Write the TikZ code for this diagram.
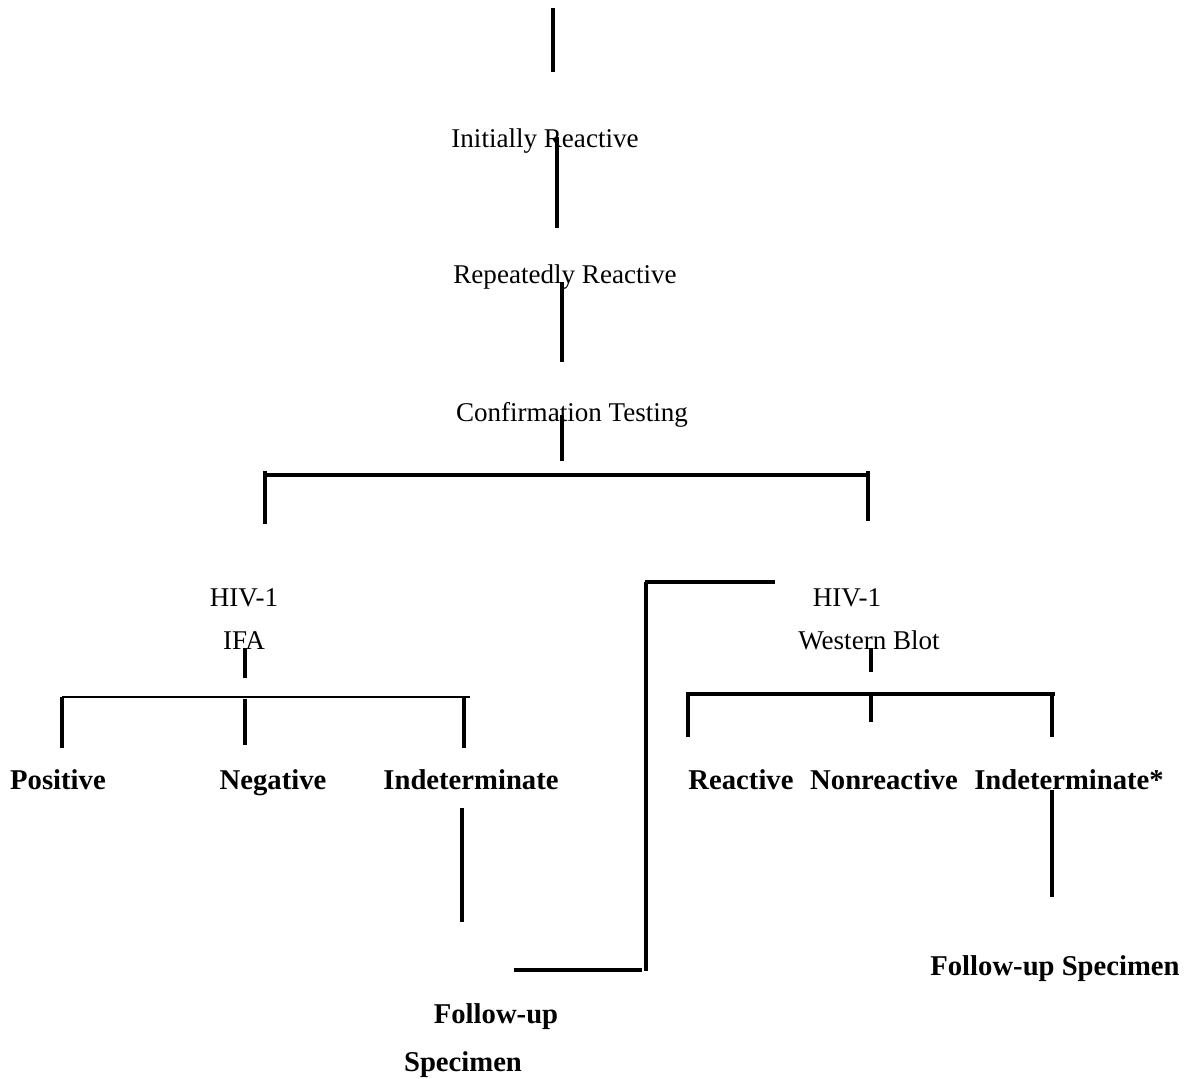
\documentclass[tikz,border=0pt]{standalone}
\usepackage{fontspec}
\setmainfont{Liberation Serif}
\begin{document}
\begin{tikzpicture}[x=0.75pt,y=-0.75pt,
  lbl/.style={inner sep=0pt,anchor=base,font=\fontsize{20.3}{24}\selectfont},
  blbl/.style={inner sep=0pt,anchor=base,font=\fontsize{21.5}{26}\selectfont\bfseries},
  thick line/.style={line width=3.3pt},
  mid line/.style={line width=2.8pt},
  thin line/.style={line width=2.2pt}]
\useasboundingbox (0,0) rectangle (1195,1078);
% text nodes
\node[lbl] (ir) at (545,147) {Initially Reactive};
\node[lbl] (rr) at (565,283) {Repeatedly Reactive};
\node[lbl] (ct) at (572,421) {Confirmation Testing};
\node[lbl] (hiv1) at (244,606) {HIV-1};
\node[lbl] (ifa) at (244,649) {IFA};
\node[lbl] (hiv2) at (847,606) {HIV-1};
\node[lbl] (wb) at (869,649) {Western Blot};
\node[blbl] (pos) at (58,789) {Positive};
\node[blbl] (neg) at (273,789) {Negative};
\node[blbl] (ind1) at (471,789) {Indeterminate};
\node[blbl] (reac) at (741,789) {Reactive};
\node[blbl] (nonr) at (884,789) {Nonreactive};
\node[blbl] (ind2) at (1069,789) {Indeterminate*};
\node[blbl] (fu1) at (496,1023) {Follow-up};
\node[blbl] (sp1) at (463,1071) {Specimen};
\node[blbl] (fu2) at (1055,975) {Follow-up Specimen};
% main trunk
\draw[thick line] (553,8) -- (553,72);
\draw[thick line] (557,137) -- (557,228);
\draw[thick line] (562,282) -- (562,362);
\draw[thick line] (562,415) -- (562,461);
\draw[thick line] (263,475) -- (870,475);
\draw[thick line] (265,471) -- (265,524);
\draw[thick line] (868,471) -- (868,521);
% IFA branch
\draw[mid line] (245,648) -- (245,678);
\draw[thin line] (62,697) -- (470,697);
\draw[mid line] (62,697) -- (62,748);
\draw[mid line] (245,699) -- (245,745);
\draw[mid line] (464,697) -- (464,748);
\draw[mid line] (462,808) -- (462,922);
% follow-up bracket
\draw[thick line] (514,970) -- (642,970);
\draw[mid line] (646,582) -- (646,971);
\draw[thick line] (645,582) -- (775,582);
% Western blot branch
\draw[mid line] (871,648) -- (871,672);
\draw[thick line] (686,694) -- (1055,694);
\draw[mid line] (688,694) -- (688,737);
\draw[mid line] (871,694) -- (871,722);
\draw[mid line] (1052,694) -- (1052,737);
\draw[mid line] (1052,790) -- (1052,897);
\end{tikzpicture}
\end{document}
